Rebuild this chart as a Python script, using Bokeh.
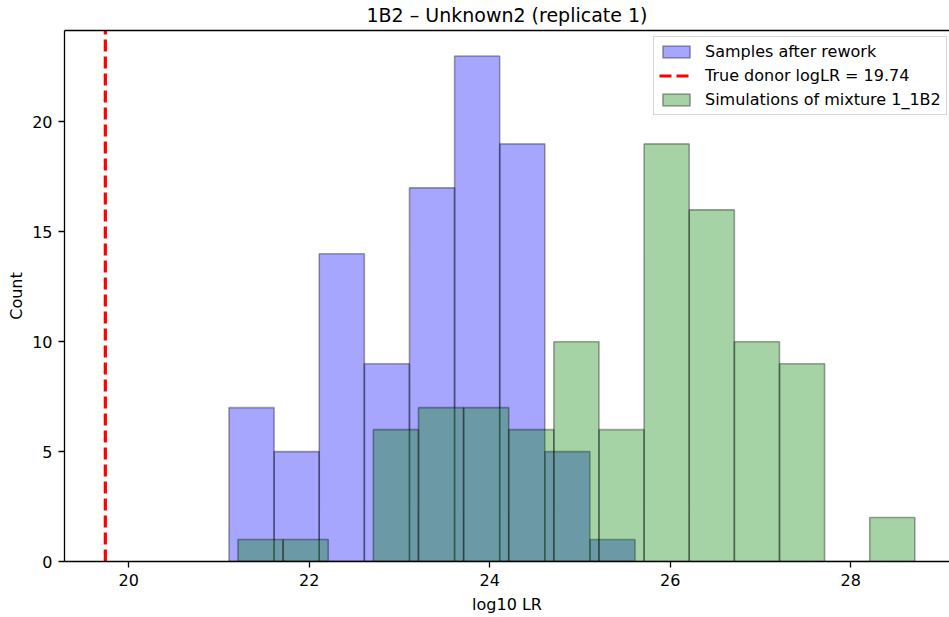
from bokeh.plotting import figure
from bokeh.models import Range1d, FixedTicker, LinearAxis
from bokeh.embed import file_html
from bokeh.resources import INLINE

# ---- data ----
title = "1B2 – Unknown2 (replicate 1)"
x_label = "log10 LR"
y_label = "Count"

blue_label = "Samples after rework"
blue_edges = [21.11, 21.61, 22.11, 22.61, 23.11, 23.61, 24.11, 24.61, 25.11, 25.61]
blue_counts = [7, 5, 14, 9, 17, 23, 19, 5, 1]

green_label = "Simulations of mixture 1_1B2"
green_edges = [21.21, 21.71, 22.21, 22.71, 23.21, 23.71, 24.21, 24.71,
               25.21, 25.71, 26.21, 26.71, 27.21, 27.71, 28.21, 28.71]
green_counts = [1, 1, 0, 6, 7, 7, 6, 10, 6, 19, 16, 10, 9, 0, 2]

true_donor = 19.74
red_label = f"True donor logLR = {true_donor:.2f}"

x_ticks = [20, 22, 24, 26, 28]
y_ticks = [0, 5, 10, 15, 20]
x_limits = (19.2875, 29.094)
y_limits = (0, 24.16)

FONT = "DejaVu Sans"

p = figure(width=949, height=617, output_backend="svg", toolbar_location=None,
           x_range=Range1d(*x_limits), y_range=Range1d(*y_limits),
           min_border_left=64, min_border_right=0, min_border_top=30,
           min_border_bottom=56)

p.outline_line_color = None
p.grid.visible = False
p.background_fill_color = "white"
p.border_fill_color = "white"

# histograms
p.quad(left=blue_edges[:-1], right=blue_edges[1:], top=blue_counts, bottom=0,
       fill_color="blue", fill_alpha=0.35, line_color="black", line_alpha=0.35,
       line_width=1.6, legend_label=blue_label)

# vertical line for the true donor (spans the full y axis)
p.line(x=[true_donor, true_donor], y=list(y_limits), line_color="red",
       line_width=3.2, line_dash="12 5", legend_label=red_label)

p.quad(left=green_edges[:-1], right=green_edges[1:], top=green_counts, bottom=0,
       fill_color="green", fill_alpha=0.35, line_color="black", line_alpha=0.35,
       line_width=1.6, legend_label=green_label)

# axes
p.xaxis.ticker = FixedTicker(ticks=x_ticks)
p.yaxis.ticker = FixedTicker(ticks=y_ticks)
p.xaxis.axis_label = x_label
p.yaxis.axis_label = y_label
for ax in (p.xaxis[0], p.yaxis[0]):
    ax.axis_line_color = "black"
    ax.axis_line_width = 1.3
    ax.major_tick_line_color = "black"
    ax.major_tick_line_width = 1.3
    ax.major_tick_out = 6
    ax.major_tick_in = 0
    ax.minor_tick_line_color = None
    ax.major_label_standoff = 6
    ax.major_label_text_font = FONT
    ax.major_label_text_font_size = "16px"
    ax.major_label_text_color = "black"
    ax.axis_label_text_font = FONT
    ax.axis_label_text_font_size = "16px"
    ax.axis_label_text_font_style = "normal"
    ax.axis_label_text_color = "black"
p.xaxis[0].axis_label_standoff = 6
p.yaxis[0].axis_label_standoff = 3

# top spine, carrying the chart title as its label
top_axis = LinearAxis(ticker=FixedTicker(ticks=[]), major_label_text_font_size="0px",
                      axis_line_color="black", axis_line_width=1.3,
                      major_tick_out=0, major_tick_in=0, minor_tick_out=0,
                      minor_tick_in=0, major_label_standoff=0,
                      axis_label=title, axis_label_standoff=5,
                      axis_label_text_font=FONT, axis_label_text_font_size="19px",
                      axis_label_text_font_style="normal",
                      axis_label_text_color="black")
p.add_layout(top_axis, "above")

# legend
lg = p.legend[0]
lg.location = (589, 446)
lg.margin = 0
lg.padding = 5
lg.spacing = 5
lg.label_height = 16
lg.glyph_height = 15
lg.glyph_width = 34
lg.label_standoff = 12
lg.label_text_font = FONT
lg.label_text_font_size = "16px"
lg.label_text_color = "black"
lg.border_line_color = "#cccccc"
lg.border_line_alpha = 0.8
lg.border_line_width = 1
lg.background_fill_color = "white"
lg.background_fill_alpha = 0.8

open("out.html", "w").write(file_html(p, INLINE))
